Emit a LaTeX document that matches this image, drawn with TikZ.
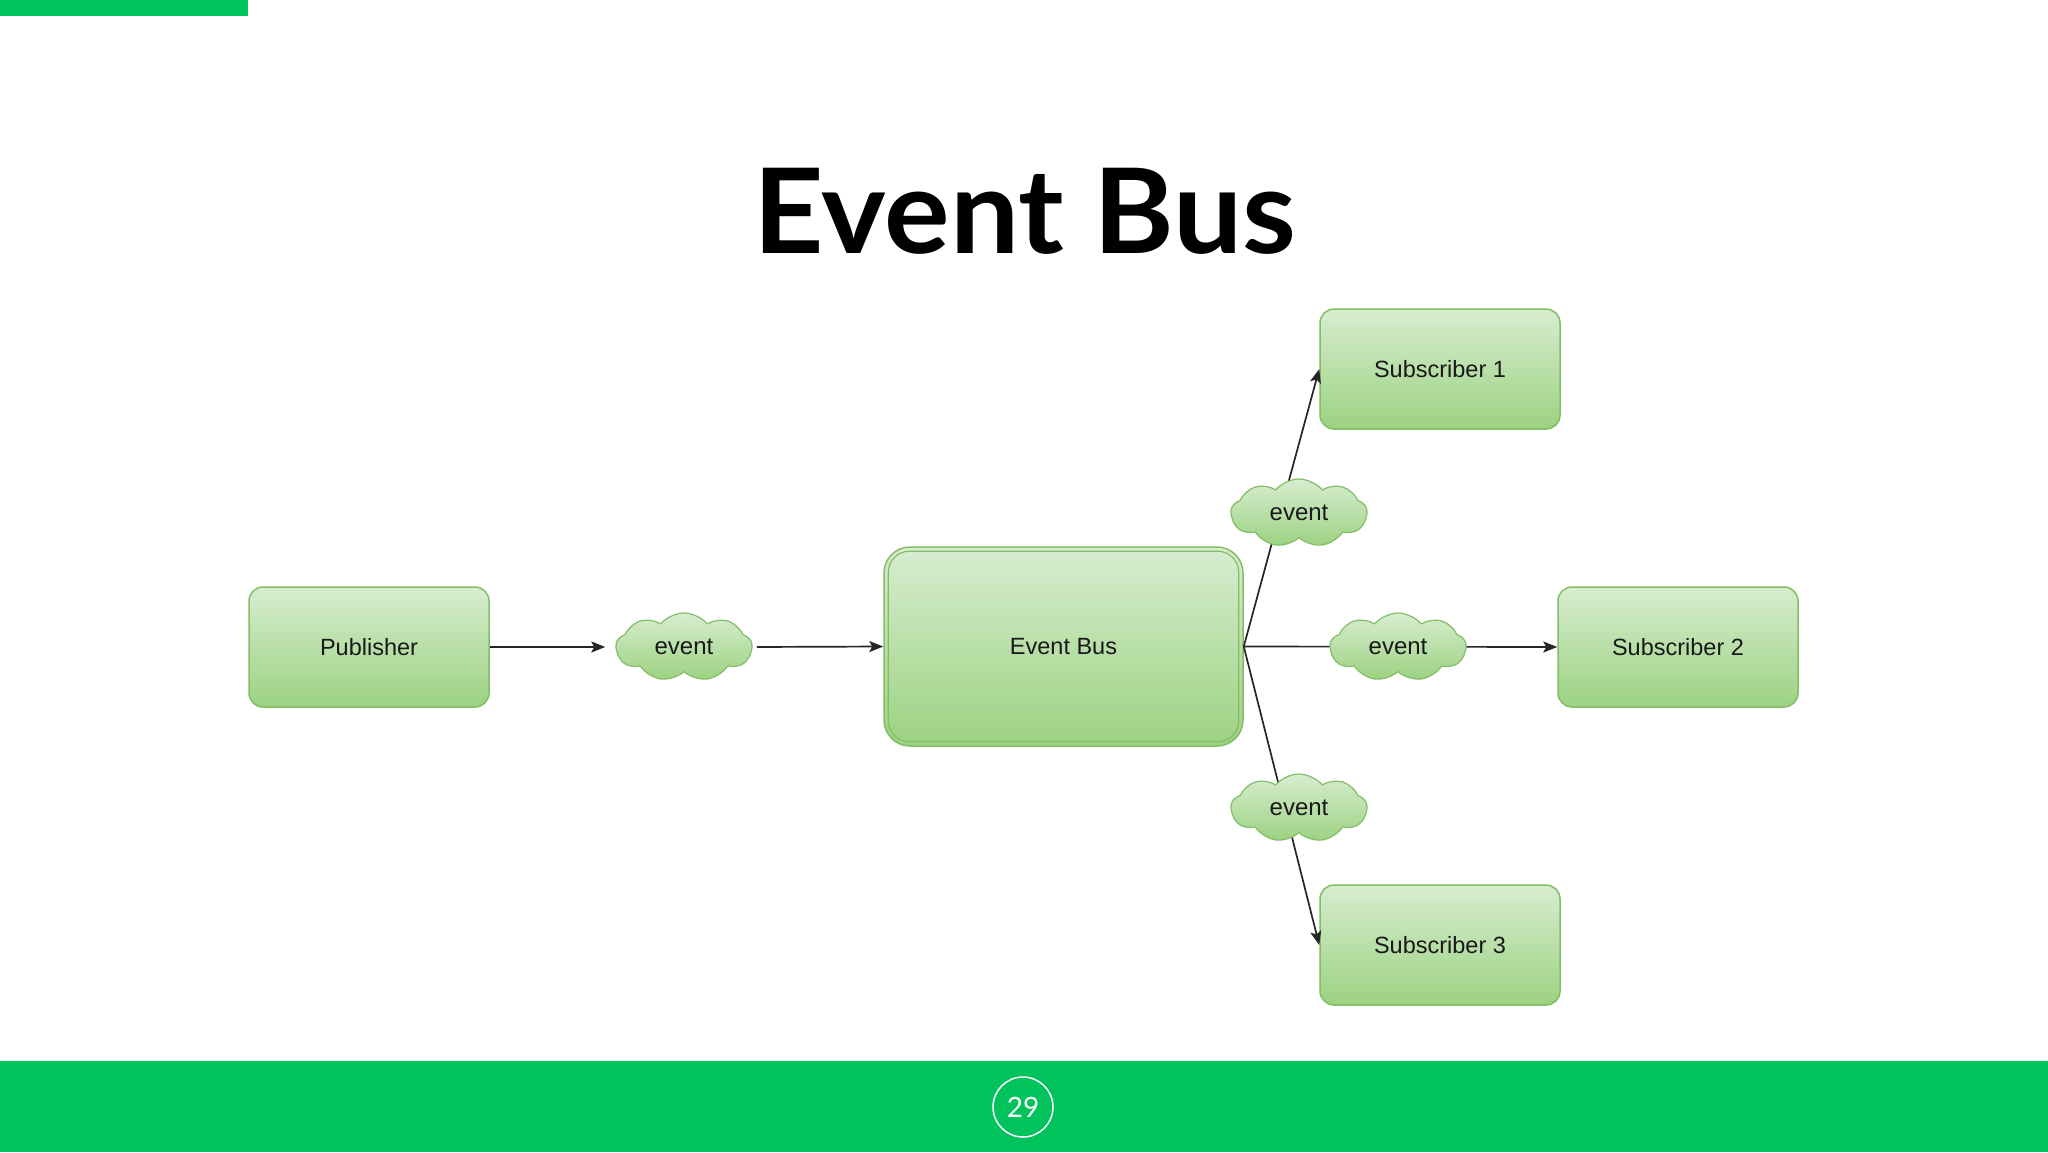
\documentclass[tikz,border=0pt]{standalone}
\usepackage{fontspec}
\setmainfont{Liberation Sans}
\newfontfamily\titlefont{Lato}
\usetikzlibrary{shapes.symbols,arrows.meta}
\definecolor{brand}{HTML}{00C35C}
\definecolor{boxtop}{HTML}{D7EDD0}
\definecolor{boxbot}{HTML}{9CD281}
\definecolor{boxline}{HTML}{84BD68}
\begin{document}
\begin{tikzpicture}[x=1pt,y=-1pt,
  box/.style={rectangle, rounded corners=14pt, draw=boxline, line width=1.5pt,
    top color=boxtop, bottom color=boxbot, minimum width=240pt, minimum height=120pt,
    font=\fontsize{23.5}{28}\selectfont, text=black!90},
  evcloud/.style={cloud, cloud puffs=9, cloud puff arc=100, aspect=2, draw=boxline, line width=1.2pt,
    top color=boxtop, bottom color=boxbot, minimum width=136pt, minimum height=68pt,
    inner sep=0pt, font=\fontsize{24}{28}\selectfont, text=black!90},
  conn/.style={line width=1.7pt, draw=black!85, -{Stealth[length=14pt,width=11pt,inset=3pt]}}]
\fill[white] (0,0) rectangle (2048,1152);
\useasboundingbox (0,0) rectangle (2048,1152);
\fill[brand] (0,0) rectangle (248,16);
\fill[brand] (0,1061) rectangle (2048,1152);
\node (title) [anchor=base, xscale=1.04, font=\titlefont\bfseries\fontsize{118}{120}\selectfont] at (1025,253) {Event Bus};
\node (pg) [circle, draw=white, line width=1.5pt, minimum size=60pt, inner sep=0pt, text=white,
  font=\titlefont\fontsize{28}{30}\selectfont] at (1023,1107) {29};
% boxes
\node (pub) [box] at (369,647) {Publisher};
\node (bus) [box, rounded corners=26pt, minimum width=359pt, minimum height=199pt] at (1063.5,646.5) {Event Bus};
\draw[boxline, line width=1.2pt, rounded corners=21pt]
  ([xshift=5pt,yshift=-5pt]bus.north west) rectangle ([xshift=-5pt,yshift=5pt]bus.south east);
\node (sub1) [box] at (1440,369) {Subscriber 1};
\node (sub2) [box] at (1678,647) {Subscriber 2};
\node (sub3) [box] at (1440,945) {Subscriber 3};
% fan-out connectors (behind the clouds)
\draw[conn] (bus.east) -- (sub1.west);
\draw[conn] (bus.east) -- (sub2.west);
\draw[conn] (bus.east) -- (sub3.west);
% clouds
\node (ev1) [evcloud] at (684,647) {event};
\node (ev2) [evcloud] at (1299,513) {event};
\node (ev3) [evcloud] at (1398,647) {event};
\node (ev4) [evcloud] at (1299,808) {event};
% left connectors
\draw[conn, shorten >=10pt] (pub.east) -- (ev1.west);
\draw[conn, shorten <=4pt] (ev1.east) -- (bus.west);
\end{tikzpicture}
\end{document}
